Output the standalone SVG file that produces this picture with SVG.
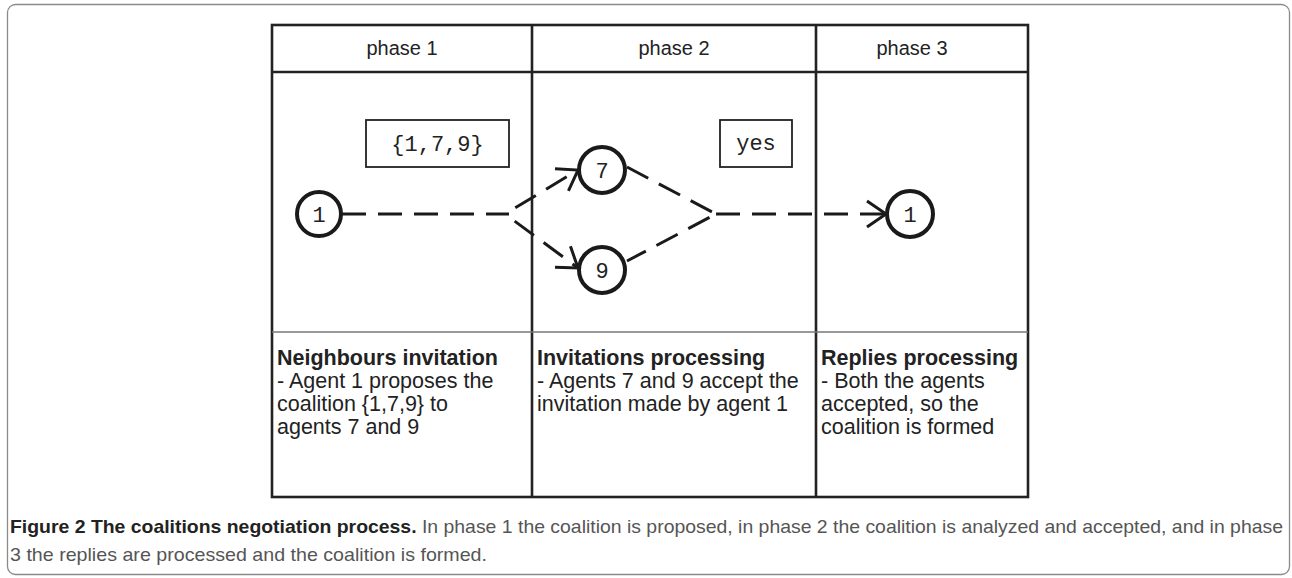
<svg xmlns="http://www.w3.org/2000/svg" width="1292" height="578" viewBox="0 0 1292 578">
<style>
.frame{fill:#fff;stroke:#8a8a8a;stroke-width:1.3}
.tbl{fill:none;stroke:#222;stroke-width:2.6}
.thin{stroke:#777;stroke-width:1.4}
.hdr{font-family:"Liberation Sans",Arial,sans-serif;font-size:20px;fill:#222;text-anchor:middle}
.body{font-family:"Liberation Sans",Arial,sans-serif;font-size:21.5px;fill:#222}
.body .b{font-weight:bold}
.node circle{fill:#fff;stroke:#1a1a1a;stroke-width:4}
.lbl{font-family:"Liberation Mono","DejaVu Sans Mono",monospace;font-size:22px;fill:#222;text-anchor:middle}
.box{fill:#fff;stroke:#222;stroke-width:1.8}
.dash{fill:none;stroke:#1a1a1a;stroke-width:3;stroke-dasharray:24 12}
.cap{font-family:"Liberation Sans",Arial,sans-serif;font-size:19px;fill:#555}
.cap .b{font-weight:bold;fill:#222}
</style>
<defs>
<marker id="arr" markerUnits="userSpaceOnUse" markerWidth="40" markerHeight="40" viewBox="-30 -20 40 40" refX="0" refY="0" orient="auto" overflow="visible">
<path d="M-19,-13 L0,0 L-19,13" fill="none" stroke="#1a1a1a" stroke-width="3" stroke-dasharray="none"/>
</marker>
</defs>
<rect class="frame" x="7.5" y="4.5" width="1282" height="570" rx="8"/>
<g id="table">
<rect class="tbl" x="272" y="25" width="756" height="472"/>
<line class="tbl" x1="532" y1="25" x2="532" y2="497"/>
<line class="tbl" x1="816" y1="25" x2="816" y2="497"/>
<line class="tbl" x1="272" y1="72" x2="1028" y2="72"/>
<line class="thin" x1="272" y1="332" x2="1028" y2="332"/>
<text class="hdr" x="402" y="55">phase 1</text>
<text class="hdr" x="674" y="55">phase 2</text>
<text class="hdr" x="912" y="55">phase 3</text>
</g>
<g id="desc1" class="body">
<text x="277" y="365"><tspan class="b">Neighbours invitation</tspan></text>
<text x="277" y="388">- Agent 1 proposes the</text>
<text x="277" y="411">coalition {1,7,9} to</text>
<text x="277" y="434">agents 7 and 9</text>
</g>
<g id="desc2" class="body">
<text x="537" y="365"><tspan class="b">Invitations processing</tspan></text>
<text x="537" y="388">- Agents 7 and 9 accept the</text>
<text x="537" y="411">invitation made by agent 1</text>
</g>
<g id="desc3" class="body">
<text x="821" y="365"><tspan class="b">Replies processing</tspan></text>
<text x="821" y="388">- Both the agents</text>
<text x="821" y="411">accepted, so the</text>
<text x="821" y="434">coalition is formed</text>
</g>
<g id="connectors">
<path class="dash" d="M342,214 H509"/>
<path class="dash" d="M505,214 L578,170" stroke-dashoffset="24" marker-end="url(#arr)"/>
<path class="dash" d="M505,214 L578,268" stroke-dashoffset="24" marker-end="url(#arr)"/>
<path class="dash" d="M627,167 L716,214 L627,261"/>
<path class="dash" d="M716,214 H886" marker-end="url(#arr)"/>
</g>
<g id="msg1"><rect class="box" x="366" y="120" width="143" height="47"/><text class="lbl" x="437.5" y="151">{1,7,9}</text></g>
<g id="msg2"><rect class="box" x="720" y="120" width="72" height="47"/><text class="lbl" x="756" y="150">yes</text></g>
<g id="n1" class="node"><circle cx="319" cy="214" r="22"/><text class="lbl" x="319" y="222">1</text></g>
<g id="n7" class="node"><circle cx="602" cy="170" r="23"/><text class="lbl" x="602" y="178">7</text></g>
<g id="n9" class="node"><circle cx="602" cy="270" r="23"/><text class="lbl" x="602" y="278">9</text></g>
<g id="n1b" class="node"><circle cx="910" cy="214" r="23"/><text class="lbl" x="910" y="222">1</text></g>
<g id="caption">
<text class="cap" x="10" y="533" textLength="1273" lengthAdjust="spacingAndGlyphs"><tspan class="b">Figure 2 The coalitions negotiation process.</tspan> In phase 1 the coalition is proposed, in phase 2 the coalition is analyzed and accepted, and in phase</text>
<text class="cap" x="10" y="561" textLength="477" lengthAdjust="spacingAndGlyphs">3 the replies are processed and the coalition is formed.</text>
</g>
</svg>
